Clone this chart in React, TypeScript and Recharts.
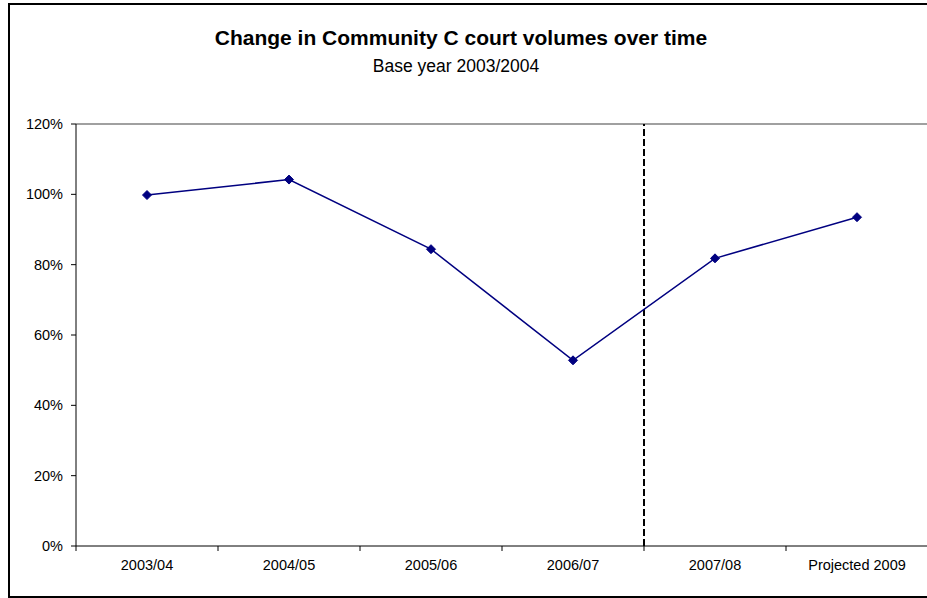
import { LineChart, Line, XAxis, YAxis, ReferenceLine } from "recharts";

const categories = ["2003/04", "2004/05", "2005/06", "2006/07", "2007/08", "Projected 2009"];
const volumes = [99.8, 104.2, 84.4, 52.8, 81.8, 93.5];
const yTicks = [0, 20, 40, 60, 80, 100, 120];
const splitAfter = 4; // boundary between 2006/07 and 2007/08

const FONT = '"Liberation Sans", Arial, sans-serif';

// numeric x so ticks can sit on category boundaries
const data = categories.map((name, i) => ({ x: i + 0.5, name, value: volumes[i] }));
const xTicks: number[] = [];
for (let i = 0; i <= categories.length; i++) {
  xTicks.push(i);
  if (i < categories.length) xTicks.push(i + 0.5);
}

function XTick(props: any) {
  const { x, y, payload } = props;
  const v = payload.value as number;
  if (Number.isInteger(v)) {
    return <line x1={x} x2={x} y1={y - 8} y2={y - 3} stroke="#000" strokeWidth={1} />;
  }
  return (
    <text x={x} y={y + 16} textAnchor="middle" fontSize={14.5} fontFamily={FONT} fill="#000">
      {categories[Math.floor(v)]}
    </text>
  );
}

function Diamond(props: any) {
  const { cx, cy } = props;
  if (cx == null || cy == null) return null;
  const r = 4.5;
  return (
    <polygon
      points={`${cx},${cy - r} ${cx + r},${cy} ${cx},${cy + r} ${cx - r},${cy}`}
      fill="#000080"
      stroke="#000080"
      strokeWidth={1}
    />
  );
}

export default function App() {
  return (
    <div
      style={{
        position: "fixed",
        left: 0,
        top: 0,
        width: 927,
        height: 598,
        overflow: "hidden",
        background: "#fff",
        fontFamily: FONT,
      }}
    >
      <div
        style={{
          position: "absolute",
          left: 8,
          top: 3,
          width: 940,
          height: 591,
          border: "2px solid #000",
        }}
      />
      <div
        style={{
          position: "absolute",
          left: 8,
          width: 906,
          top: 26,
          textAlign: "center",
          fontSize: 21,
          lineHeight: "24px",
          fontWeight: "bold",
          color: "#000",
        }}
      >
        Change in Community C court volumes over time
      </div>
      <div
        style={{
          position: "absolute",
          left: 8,
          width: 896,
          top: 56,
          textAlign: "center",
          fontSize: 17.5,
          lineHeight: "21px",
          color: "#000",
        }}
      >
        Base year 2003/2004
      </div>
      <div style={{ position: "absolute", left: 0, top: 0 }}>
        <LineChart
          width={935}
          height={598}
          data={data}
          margin={{ top: 124, right: 7, left: 0, bottom: 0 }}
        >
          <XAxis
            dataKey="x"
            type="number"
            domain={[0, categories.length]}
            ticks={xTicks}
            interval={0}
            height={52}
            axisLine={{ stroke: "#000", strokeWidth: 1 }}
            tickLine={false}
            tick={<XTick />}
          />
          <YAxis
            type="number"
            domain={[0, 120]}
            ticks={yTicks}
            interval={0}
            width={76}
            tickSize={5}
            tickMargin={8}
            axisLine={{ stroke: "#000", strokeWidth: 1 }}
            tickLine={{ stroke: "#000" }}
            tick={{ fontSize: 14.5, fontFamily: FONT, fill: "#000" }}
            tickFormatter={(v) => `${v}%`}
          />
          <ReferenceLine y={yTicks[yTicks.length - 1]} stroke="#808080" strokeWidth={1.5} />
          <ReferenceLine x={splitAfter} stroke="#000" strokeWidth={2} strokeDasharray="7 3" />
          <Line
            type="linear"
            dataKey="value"
            stroke="#000080"
            strokeWidth={1.5}
            dot={<Diamond />}
            activeDot={false}
            isAnimationActive={false}
          />
        </LineChart>
      </div>
    </div>
  );
}
